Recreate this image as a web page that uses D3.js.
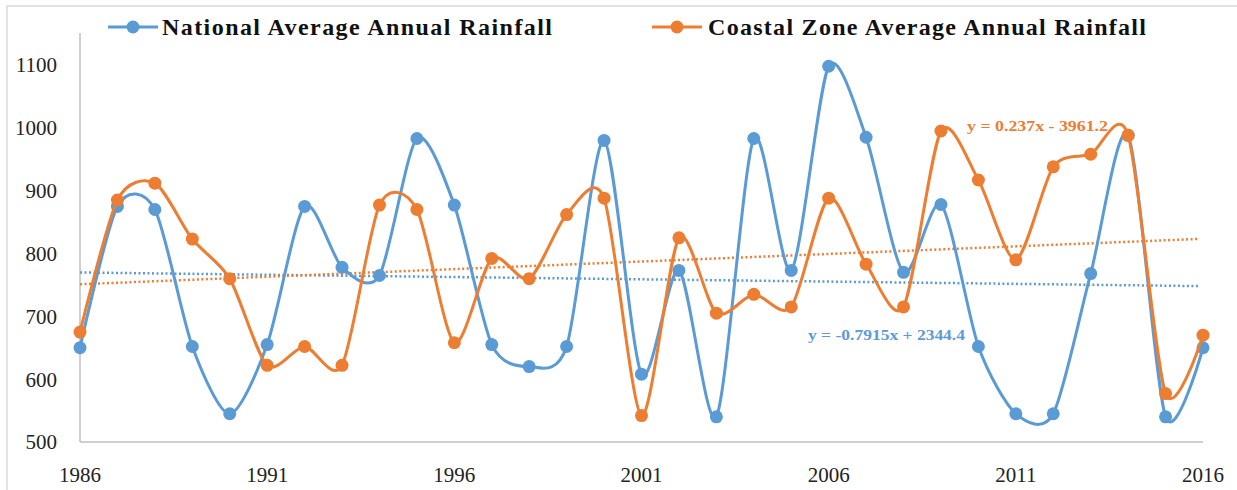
<!DOCTYPE html>
<html>

<head>
    <title>Rainfall</title>
    <script src="https://cdn.jsdelivr.net/npm/d3@7"></script>
    <style>
        body { margin: 0; background: #fff; }
    </style>
</head>

<body>
    <svg width="1237" height="490" id="mainsvg"></svg>
    <script>
        // data
        const years = d3.range(1986, 2017);
        const national = [650, 875, 870, 652, 545, 655, 875, 778, 765, 983,
                          877, 655, 620, 652, 980, 608, 773, 540, 983, 773,
                          1098, 985, 770, 878, 652, 545, 545, 768, 988, 540, 650];
        const coastal = [675, 885, 912, 823, 760, 622, 652, 622, 877, 870,
                         658, 792, 760, 862, 888, 542, 825, 705, 735, 715,
                         888, 783, 715, 995, 917, 790, 938, 958, 988, 577, 670];
        const yTicks = [500, 600, 700, 800, 900, 1000, 1100];
        const xTicks = [1986, 1991, 1996, 2001, 2006, 2011, 2016];
        const seriesNames = ['National Average Annual Rainfall', 'Coastal Zone Average Annual Rainfall'];
        const trendLabels = ['y = -0.7915x + 2344.4', 'y = 0.237x - 3961.2'];

        const BLUE = '#5b9bd5';
        const ORANGE = '#ed7d31';

        const svg = d3.select('svg');
        const x = d3.scaleLinear().domain([1986, 2016]).range([80, 1203]);
        const y = d3.scaleLinear().domain([500, 1100]).range([442, 65]);

        // outer frame
        svg.append('rect').attr('x', 7).attr('y', 6).attr('width', 1240).attr('height', 500)
            .attr('fill', 'none').attr('stroke', '#d9d9d9').attr('stroke-width', 1.5);

        // axes
        svg.append('line').attr('x1', 80).attr('x2', 80).attr('y1', 33).attr('y2', 442)
            .attr('stroke', '#bfbfbf').attr('stroke-width', 1.5);
        svg.append('line').attr('x1', 80).attr('x2', 1203).attr('y1', 442).attr('y2', 442)
            .attr('stroke', '#bfbfbf').attr('stroke-width', 1.5);

        svg.selectAll('.ytick').data(yTicks).join('text').attr('class', 'ytick')
            .attr('x', 57).attr('y', d => y(d)).attr('dy', '0.35em')
            .attr('text-anchor', 'end')
            .attr('font-family', 'Liberation Serif').attr('font-size', 21).attr('fill', '#222')
            .text(d => d);

        svg.selectAll('.xtick').data(xTicks).join('text').attr('class', 'xtick')
            .attr('x', d => x(d)).attr('y', 475).attr('dy', '0.35em')
            .attr('text-anchor', 'middle')
            .attr('font-family', 'Liberation Serif').attr('font-size', 21).attr('fill', '#222')
            .text(d => d);

        // least squares trend
        const fit = vals => {
            const mx = d3.mean(years), my = d3.mean(vals);
            const b = d3.sum(years, (t, i) => (t - mx) * (vals[i] - my)) / d3.sum(years, t => (t - mx) ** 2);
            return t => my + b * (t - mx);
        };

        const series = [
            { name: seriesNames[0], vals: national, color: BLUE },
            { name: seriesNames[1], vals: coastal, color: ORANGE }
        ];

        const line = d3.line().x(d => x(d[0])).y(d => y(d[1])).curve(d3.curveCardinal.tension(0.2));

        for (const s of series) {
            const f = fit(s.vals);
            svg.append('line')
                .attr('x1', x(1986)).attr('y1', y(f(1986)))
                .attr('x2', x(2016) - 5).attr('y2', y(f(2016)))
                .attr('stroke', s.color).attr('stroke-width', 2.5)
                .attr('stroke-dasharray', '2,2.5');
        }

        for (const s of series) {
            const pts = years.map((t, i) => [t, s.vals[i]]);
            svg.append('path').datum(pts).attr('d', line)
                .attr('fill', 'none').attr('stroke', s.color).attr('stroke-width', 3);
            svg.append('g').selectAll('circle').data(pts).join('circle')
                .attr('cx', d => x(d[0])).attr('cy', d => y(d[1])).attr('r', 6.5)
                .attr('fill', s.color);
        }

        // trend equations
        svg.append('text').attr('x', 808).attr('y', 335).attr('dy', '0.35em')
            .attr('font-family', 'Liberation Serif').attr('font-weight', 'bold').attr('font-size', 15)
            .attr('fill', BLUE).attr('textLength', 157).attr('lengthAdjust', 'spacingAndGlyphs')
            .text(trendLabels[0]);
        svg.append('text').attr('x', 967).attr('y', 126).attr('dy', '0.35em')
            .attr('font-family', 'Liberation Serif').attr('font-weight', 'bold').attr('font-size', 15)
            .attr('fill', ORANGE).attr('textLength', 141).attr('lengthAdjust', 'spacingAndGlyphs')
            .text(trendLabels[1]);

        // legend
        const legend = [
            { x0: 108, tx: 162, tw: 390 },
            { x0: 652, tx: 708, tw: 438 }
        ];
        legend.forEach((l, i) => {
            const g = svg.append('g');
            g.append('line').attr('x1', l.x0).attr('x2', l.x0 + 50).attr('y1', 27).attr('y2', 27)
                .attr('stroke', series[i].color).attr('stroke-width', 3);
            g.append('circle').attr('cx', l.x0 + 25).attr('cy', 27).attr('r', 6.5).attr('fill', series[i].color);
            g.append('text').attr('x', l.tx).attr('y', 27).attr('dy', '0.35em')
                .attr('font-family', 'Liberation Serif').attr('font-weight', 'bold').attr('font-size', 24)
                .attr('fill', '#111').attr('textLength', l.tw).attr('lengthAdjust', 'spacing')
                .text(series[i].name);
        });
    </script>
</body>

</html>
